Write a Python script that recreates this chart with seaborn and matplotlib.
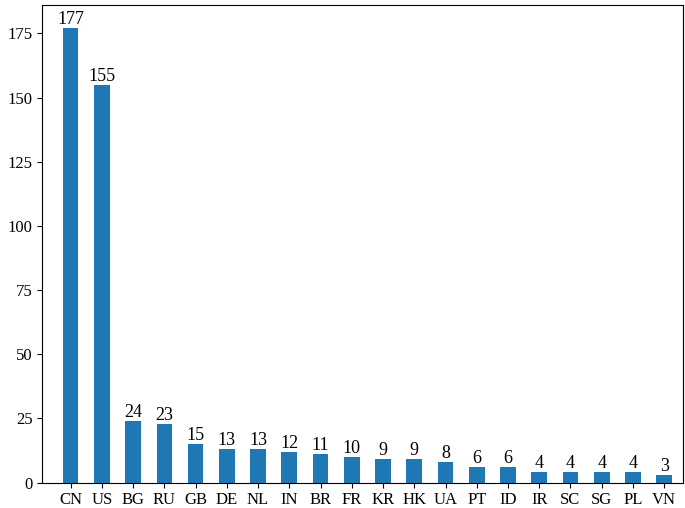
import matplotlib
matplotlib.use("Agg")
import matplotlib.pyplot as plt
import seaborn as sns
import pandas as pd

countries = ["CN","US","BG","RU","GB","DE","NL","IN","BR","FR","KR","HK","UA","PT","ID","IR","SC","SG","PL","VN"]
counts = [177,155,24,23,15,13,13,12,11,10,9,9,8,6,6,4,4,4,4,3]

plt.rcParams['font.family'] = ['Liberation Serif', 'DejaVu Serif']
plt.rcParams['font.size'] = 12

df = pd.DataFrame({"country": countries, "count": counts})
fig = plt.figure(figsize=(6.85, 5.08), dpi=100)
ax = fig.add_axes([0.062, 0.05, 0.935, 0.94])
sns.barplot(data=df, x="country", y="count", color="#1f77b4", saturation=1, width=0.5, ax=ax)
for i, v in enumerate(counts):
    ax.text(i, v, str(v), ha="center", va="bottom", fontsize=13)
ax.set_xlabel("")
ax.set_ylabel("")
ax.set_ylim(0, 186)
ax.set_xlim(-0.9, 19.6)
ax.set_yticks([0,25,50,75,100,125,150,175])
ax.tick_params(labelsize=12)
fig.savefig("out.png", dpi=100)
